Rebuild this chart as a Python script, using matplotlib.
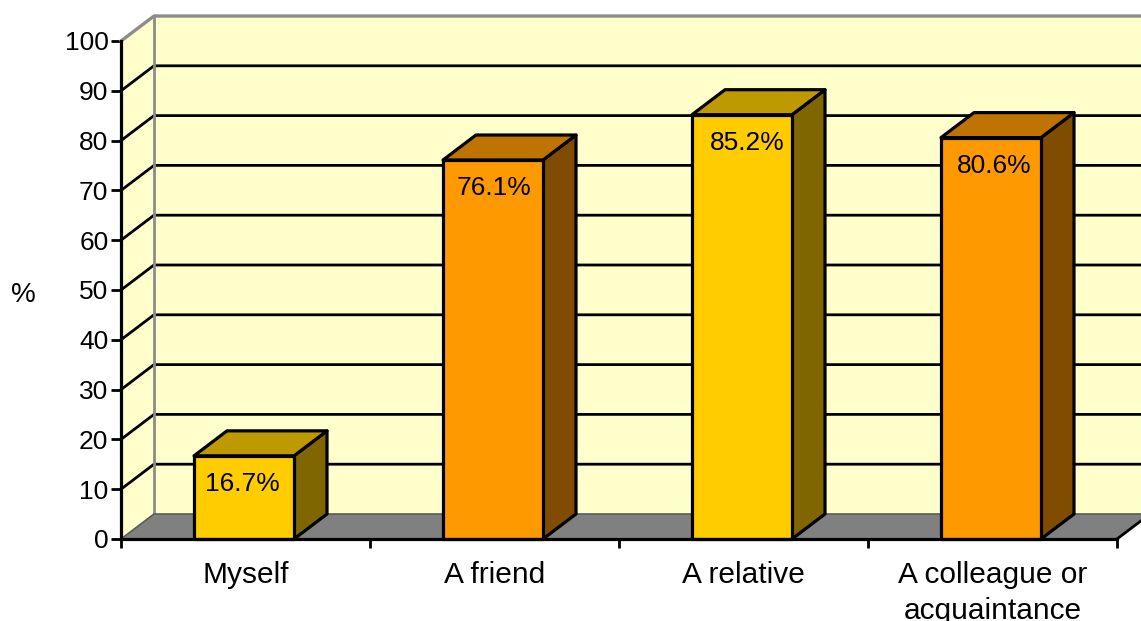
import numpy as np
import matplotlib.pyplot as plt
from matplotlib.patches import Polygon

plt.rcParams['font.family'] = ['Liberation Sans', 'DejaVu Sans']

categories = ['Myself', 'A friend', 'A relative', 'A colleague or\nacquaintance']
values = [16.7, 76.1, 85.2, 80.6]
value_labels = ['16.7%', '76.1%', '85.2%', '80.6%']
y_ticks = [0, 10, 20, 30, 40, 50, 60, 70, 80, 90, 100]

# face, top, side colours, alternating between the bars
bar_colors = [('#FFCC00', '#BF9900', '#806600'), ('#FF9900', '#BF7300', '#804D00')]
wall_color = '#FFFFCC'
floor_color = '#808080'
edge_gray = '#8C8C8C'

W, H = 1141, 621
fig = plt.figure(figsize=(W / 100, H / 100), dpi=100)
ax = fig.add_axes([121 / W, 1 - 539 / H, (1117 - 121) / W, (539 - 41) / H])
n = len(categories)
ax.set_xlim(0, n)
ax.set_ylim(0, 100)
ax.patch.set_visible(False)

# 3D depth offset in data units
dx = 33 / 249
dy = 25 / 4.98
bar_w = 100 / 249
lw = 2.0
xmax = n + 0.3

# back wall, side wall and floor
ax.add_patch(Polygon([(dx, dy), (xmax, dy), (xmax, 100 + dy), (dx, 100 + dy)],
                     fc=wall_color, ec='none', clip_on=False, zorder=1))
ax.add_patch(Polygon([(0, 0), (dx, dy), (dx, 100 + dy), (0, 100)],
                     fc=wall_color, ec='none', clip_on=False, zorder=1))
ax.add_patch(Polygon([(0, 0), (dx, dy), (xmax, dy), (n + dx, dy), (n, 0)],
                     fc=floor_color, ec='none', clip_on=False, zorder=1))

# grid lines
for t in y_ticks[1:-1]:
    ax.plot([0, dx, xmax], [t, t + dy, t + dy], color='black', lw=lw,
            clip_on=False, zorder=2, solid_joinstyle='miter')
ax.plot([0, dx, xmax], [100, 100 + dy, 100 + dy], color=edge_gray, lw=lw + 0.4,
        clip_on=False, zorder=2)
ax.plot([dx, dx], [dy, 100 + dy], color=edge_gray, lw=lw, clip_on=False, zorder=2)
ax.plot([0, dx, xmax], [0, dy, dy], color='#5A5A5A', lw=1.2, clip_on=False, zorder=2)
ax.plot([n, n + dx], [0, dy], color='black', lw=lw, clip_on=False, zorder=2)

# bars
label_shift = [-3 / 249, -1 / 249, 4 / 249, 2 / 249]
for i, v in enumerate(values):
    face, top, side = bar_colors[i % 2]
    x0 = i + 0.5 - bar_w / 2 - 1.5 / 249
    x1 = x0 + bar_w
    style = dict(ec='black', lw=2.3, clip_on=False, zorder=3, joinstyle='round')
    ax.add_patch(Polygon([(x1, 0), (x1 + dx, dy), (x1 + dx, v + dy), (x1, v)], fc=side, **style))
    ax.add_patch(Polygon([(x0, v), (x0 + dx, v + dy), (x1 + dx, v + dy), (x1, v)], fc=top, **style))
    ax.add_patch(Polygon([(x0, 0), (x1, 0), (x1, v), (x0, v)], fc=face, **style))
    ax.text(i + 0.5 + label_shift[i], v - 5.7, value_labels[i], ha='center', va='center',
            fontsize=19, color='black', zorder=4)

for s in ['top', 'right']:
    ax.spines[s].set_visible(False)
for s in ['left', 'bottom']:
    ax.spines[s].set_linewidth(2.3)
    ax.spines[s].set_zorder(5)

ax.set_yticks(y_ticks)
ax.tick_params(axis='y', length=7, width=lw, labelsize=19, pad=2)
ax.set_xticks(np.arange(n + 1))
ax.set_xticklabels([])
ax.tick_params(axis='x', which='major', length=6.5, width=lw)
ax.set_xticks(np.arange(n) + 0.5, minor=True)
ax.set_xticklabels(categories, minor=True, fontsize=21.5, linespacing=1.38, va='top')
ax.tick_params(axis='x', which='minor', length=0, pad=15.5)

fig.text(23 / W, 1 - 295 / H, '%', ha='center', va='center', fontsize=20)

fig.savefig('out.png', dpi=100)
